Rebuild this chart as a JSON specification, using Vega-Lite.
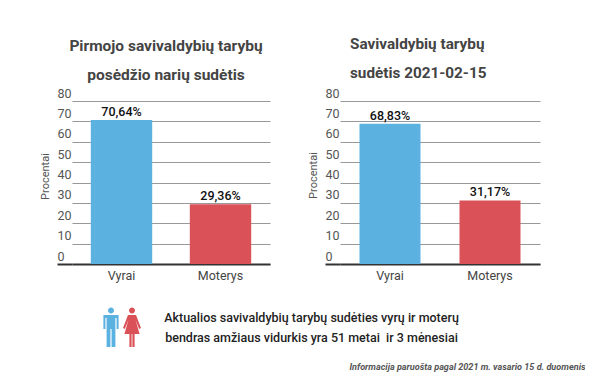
{
"$schema":"https://vega.github.io/schema/vega-lite/v6.json",
"background":"white",
"padding":{"left":39,"top":36,"right":0,"bottom":0},
"autosize":{"type":"pad"},
"config":{"view":{"stroke":null},"font":"Roboto","concat":{"spacing":0}},
"datasets":{
"a":[{"lytis":"Vyrai","procentai":70.64,"zyma":"70,64%"},{"lytis":"Moterys","procentai":29.36,"zyma":"29,36%"}],
"b":[{"lytis":"Vyrai","procentai":68.83,"zyma":"68,83%"},{"lytis":"Moterys","procentai":31.17,"zyma":"31,17%"}],
"c":[{"lytis":"Vyras","y":0},{"lytis":"Moteris","y":0}]
},
"vconcat":[
{"hconcat":[
{"width":198,"height":163,"data":{"name":"a"},
"title":{"text":["Pirmojo savivaldybių tarybų","posėdžio narių sudėtis"],"font":"Roboto","fontSize":15.5,"fontWeight":"bold","color":"#444444","lineHeight":29,"anchor":"middle","dx":-5,"offset":4},
"encoding":{"x":{"field":"lytis","type":"nominal","sort":["Vyrai","Moterys"],"scale":{"paddingInner":0.38,"paddingOuter":0.19},
"axis":{"title":null,"labelAngle":0,"labelFont":"Roboto","labelFontSize":12.5,"labelColor":"#444444","labelPadding":5,"ticks":false,"domainColor":"#333333","domainWidth":2}},
"y":{"field":"procentai","type":"quantitative","scale":{"domain":[0,80]},
"axis":{"title":"Procentai","titleY":75,"titleFont":"Roboto","titleFontSize":11,"titleFontWeight":"normal","titleColor":"#555555","titlePadding":6,"values":[0,10,20,30,40,50,60,70,80],"grid":true,"gridColor":"#999999","gridWidth":1,"domain":false,"tickSize":15,"tickColor":"#333333","tickWidth":{"condition":{"test":"datum.value===0","value":2},"value":0},"labelAlign":"left","labelBaseline":"bottom","labelPadding":0,"labelOffset":-1,"labelFont":"Roboto","labelFontSize":12.5,"labelColor":"#555555"}}},
"layer":[
{"mark":{"type":"bar"},"encoding":{"color":{"field":"lytis","type":"nominal","scale":{"domain":["Vyrai","Moterys"],"range":["#5BB1E0","#DA5257"]},"legend":null}}},
{"mark":{"type":"text","baseline":"bottom","dy":-1,"font":"Roboto","fontSize":12.5,"fontWeight":500,"color":"#111111"},"encoding":{"text":{"field":"zyma"}}}
]},
{"width":200,"height":163,"data":{"name":"b"},
"title":{"text":["Savivaldybių tarybų","sudėtis 2021-02-15"],"font":"Roboto","fontSize":15.3,"fontWeight":"bold","color":"#444444","lineHeight":29,"anchor":"start","align":"left","dx":43,"offset":6},
"encoding":{"x":{"field":"lytis","type":"nominal","sort":["Vyrai","Moterys"],"scale":{"paddingInner":0.39,"paddingOuter":0.195},
"axis":{"title":null,"labelAngle":0,"labelFont":"Roboto","labelFontSize":12.5,"labelColor":"#444444","labelPadding":5,"ticks":false,"domainColor":"#333333","domainWidth":2}},
"y":{"field":"procentai","type":"quantitative","scale":{"domain":[0,80]},
"axis":{"title":"Procentai","titleY":74,"titleFont":"Roboto","titleFontSize":11,"titleFontWeight":"normal","titleColor":"#555555","titlePadding":6,"values":[0,10,20,30,40,50,60,70,80],"grid":true,"gridColor":"#999999","gridWidth":1,"domain":false,"tickSize":15,"tickColor":"#333333","tickWidth":{"condition":{"test":"datum.value===0","value":2},"value":0},"labelAlign":"left","labelBaseline":"bottom","labelPadding":0,"labelOffset":-1,"labelFont":"Roboto","labelFontSize":12.5,"labelColor":"#555555"}}},
"layer":[
{"mark":{"type":"bar"},"encoding":{"color":{"field":"lytis","type":"nominal","scale":{"domain":["Vyrai","Moterys"],"range":["#5BB1E0","#DA5257"]},"legend":null}}},
{"mark":{"type":"text","baseline":"bottom","dy":-1,"font":"Roboto","fontSize":12.5,"fontWeight":500,"color":"#111111"},"encoding":{"text":{"field":"zyma"}}}
]}
],"spacing":37},
{"width":513,"height":46,"data":{"name":"c"},
"title":{"text":["Aktualios savivaldybių tarybų sudėties vyrų ir moterų","bendras amžiaus vidurkis yra 51 metai\u00a0 ir 3 mėnesiai"],"font":"Roboto","fontSize":12.5,"fontWeight":500,"color":"#222222","lineHeight":20,"anchor":"middle","dx":-17,"offset":-40.5},
"mark":{"type":"point","filled":true,"opacity":1,"size":1600},
"encoding":{
"x":{"field":"lytis","type":"nominal","sort":["Vyras","Moteris"],"scale":{"type":"point","padding":0,"domain":["Vyras","Moteris"],"range":[39,60]},
"axis":{"title":"Informacija paruošta pagal 2021 m. vasario 15 d. duomenis","titleX":513,"titleAlign":"right","titleFont":"Roboto","titleFontSize":9.1,"titleFontStyle":"italic","titleFontWeight":"bold","titleColor":"#555555","titlePadding":12,"labels":false,"ticks":false,"domain":false}},
"y":{"field":"y","type":"quantitative","axis":null,"scale":{"domain":[-1,1]}},
"color":{"field":"lytis","type":"nominal","scale":{"domain":["Vyras","Moteris"],"range":["#5BB1E0","#DA5257"]},"legend":null},
"shape":{"field":"lytis","type":"nominal","scale":{"domain":["Vyras","Moteris"],"range":[
"M-0.15,-0.82a0.15,0.15 0 1,0 0.3,0a0.15,0.15 0 1,0 -0.3,0ZM-0.38,-0.6H0.38V0.1H0.28V-0.45H0.22V1H0.03V0.1H-0.03V1H-0.22V-0.45H-0.28V0.1H-0.38Z",
"M-0.15,-0.82a0.15,0.15 0 1,0 0.3,0a0.15,0.15 0 1,0 -0.3,0ZM-0.2,-0.6H0.2L0.45,0.05L0.36,0.1L0.18,-0.35L0.38,0.35H0.13V1H0.02V0.35H-0.02V1H-0.13V0.35H-0.38L-0.18,-0.35L-0.36,0.1L-0.45,0.05Z"
]},"legend":null}
}}
],"spacing":22
}
